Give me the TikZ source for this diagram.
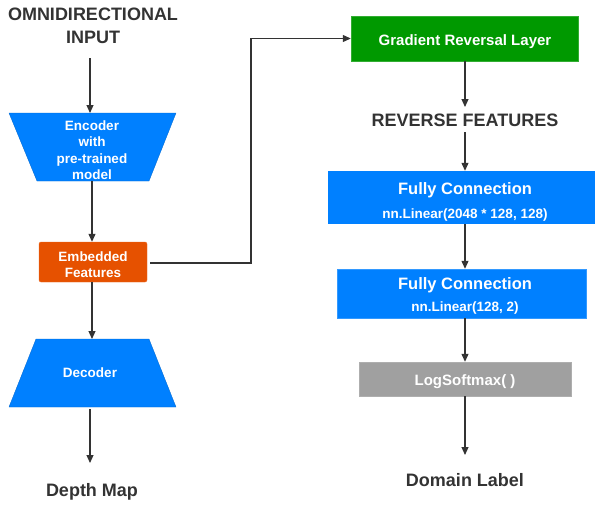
\documentclass[tikz,border=0pt]{standalone}
\usepackage{fontspec}
\setmainfont{Liberation Sans}
\usetikzlibrary{arrows.meta,shapes.geometric}
\definecolor{inkgrey}{HTML}{333333}
\definecolor{netblue}{HTML}{0080FF}
\definecolor{featorange}{HTML}{E65100}
\definecolor{grlgreen}{HTML}{009900}
\definecolor{softgrey}{HTML}{A0A0A0}
\tikzset{
  flow/.style={draw=inkgrey, line width=1.1pt, -{Triangle[length=8pt,width=7pt]}},
  title/.style={text=inkgrey, font=\bfseries\fontsize{18}{23}\selectfont, align=center, inner sep=0pt},
  boxtext/.style={text=white, font=\bfseries\fontsize{13.5}{16.5}\selectfont, align=center, inner sep=0pt},
}
\begin{document}
\begin{tikzpicture}[x=1pt,y=-1pt]
\useasboundingbox (0,0) rectangle (595,506);
\clip (0,0) rectangle (595,506);

% left branch: encoder / decoder
\node[title] (inp) at (93,26) {OMNIDIRECTIONAL\\INPUT};
\coordinate (inpb) at (90,58);

\fill[netblue, draw=netblue!80!black, line width=0.3pt] (9,113) -- (176,113) -- (149,181) -- (37,181) -- cycle;
\node[boxtext] (enc) at (92,150) {Encoder\\with\\pre-trained\\model};
\coordinate (enct) at (90,113);
\coordinate (encb) at (92,181);

\node[fill=featorange, draw=featorange!85!white, rounded corners=2pt,
      minimum width=108pt, minimum height=40pt, inner sep=0pt] (emb) at (93,262) {};
\node[boxtext, font=\bfseries\fontsize{13.5}{16}\selectfont] at (93,265) {Embedded\\Features};

\fill[netblue, draw=netblue!80!black, line width=0.3pt] (36,339) -- (149,339) -- (176,407) -- (9,407) -- cycle;
\node[boxtext] (dec) at (90,373) {Decoder};
\coordinate (dect) at (92,339);
\coordinate (decb) at (90,409);
\coordinate (deptht) at (90,463);
\node[title] (depth) at (92,492) {Depth Map};

\draw[flow] (inpb) -- (enct);
\draw[flow] (encb) -- (emb.north -| encb);
\draw[flow] (emb.south -| dect) -- (dect);
\draw[flow] (decb) -- (deptht);

% right branch: domain classifier
\node[fill=grlgreen, draw=grlgreen!80!white, minimum width=227pt, minimum height=45pt,
      inner sep=0pt] (grl) at (464.5,38.5) {};
\node[boxtext, font=\bfseries\fontsize{15}{16}\selectfont] at (465,41.5) {Gradient Reversal Layer};
\node[title] (rev) at (465,120) {REVERSE FEATURES};

\node[fill=netblue, minimum width=274pt, minimum height=53pt, inner sep=0pt] (fc1) at (465,197.5) {};
\node[boxtext, font=\bfseries\fontsize{16.5}{18}\selectfont] at (465,190) {Fully Connection};
\node[boxtext] at (465,215.5) {nn.Linear(2048 * 128, 128)};

\node[fill=netblue, draw=netblue!80!white, minimum width=249pt, minimum height=49pt, inner sep=0pt] (fc2) at (461.5,293.5) {};
\node[boxtext, font=\bfseries\fontsize{16.5}{18}\selectfont] at (465,285) {Fully Connection};
\node[boxtext] at (465,308.5) {nn.Linear(128, 2)};

\node[fill=softgrey, draw=softgrey!85!white, minimum width=212pt, minimum height=34pt,
      inner sep=0pt] (lsm) at (465,379) {};
\node[boxtext, font=\bfseries\fontsize{15}{16}\selectfont] at (465,382) {LogSoftmax( )};
\node[title] (dom) at (465,480) {Domain Label};

\coordinate (revt) at (465,107);
\coordinate (revb) at (465,132);
\coordinate (domt) at (465,455);

\draw[flow] (grl.south -| revt) -- (revt);
\draw[flow] (revb) -- (fc1.north -| revb);
\draw[flow] (fc1.south -| revb) -- (fc2.north -| revb);
\draw[flow] (fc2.south -| revb) -- (lsm.north -| revb);
\draw[flow] (lsm.south -| revb) -- (domt);

% skip connection to the gradient reversal layer
\coordinate (embr) at (150,263);
\coordinate (bend) at (251,263);
\draw[flow] (embr) -- (bend) -- (bend |- grl.west) -- (grl.west);
\end{tikzpicture}
\end{document}
